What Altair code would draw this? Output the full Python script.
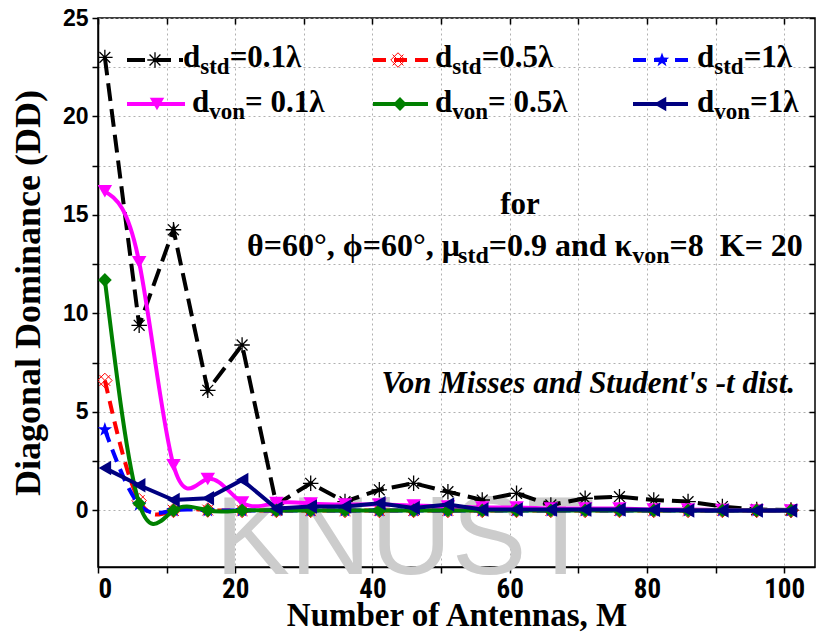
import altair as alt
import pandas as pd

# ---------------- data ----------------
M = [1, 6, 11, 16, 21, 26, 31, 36, 41, 46, 51, 56, 61, 66, 71, 76, 81, 86, 91, 96, 101]
dd_std_01 = [23.0, 9.4, 14.25, 6.1, 8.4, 0.3, 1.38, 0.45, 1.05, 1.38, 0.95, 0.53, 0.87, 0.28, 0.62, 0.7, 0.53, 0.45, 0.2, 0.05, 0.02]
dd_std_05 = [6.6, 0.5, 0.0, 0.02, 0.0, 0.0, 0.0, 0.0, 0.0, 0.0, 0.0, 0.0, 0.0, 0.0, 0.0, 0.0, 0.0, 0.0, 0.0, 0.0, 0.0]
dd_std_1 = [4.1, 0.3, 0.0, 0.01, 0.0, 0.0, 0.0, 0.0, 0.0, 0.0, 0.0, 0.0, 0.0, 0.0, 0.0, 0.0, 0.0, 0.0, 0.0, 0.0, 0.0]
dd_von_01 = [16.2, 12.6, 2.3, 1.6, 0.4, 0.38, 0.35, 0.3, 0.3, 0.25, 0.2, 0.15, 0.15, 0.1, 0.1, 0.1, 0.05, 0.05, 0.02, 0.0, 0.0]
dd_von_05 = [11.7, 0.35, 0.0, 0.0, 0.0, 0.0, 0.0, 0.0, 0.0, 0.0, 0.0, 0.0, 0.0, 0.0, 0.0, 0.0, 0.0, 0.0, 0.0, 0.0, 0.0]
dd_von_1 = [2.15, 1.28, 0.53, 0.62, 1.55, 0.1, 0.2, 0.2, 0.37, 0.12, 0.3, 0.05, 0.05, 0.05, 0.05, 0.05, 0.03, 0.0, 0.0, 0.0, 0.0]

x_ticks = [0, 10, 20, 30, 40, 50, 60, 70, 80, 90, 100]
y_ticks = [0, 2.5, 5, 7.5, 10, 12.5, 15, 17.5, 20, 22.5, 25]

# ---------------- styling ----------------
W, H = 717, 549
xs = alt.Scale(domain=[0, 104.5], nice=False, zero=False)
ys = alt.Scale(domain=[-2.87, 25], nice=False, zero=False)

ASTER = "M-1,0L1,0M0,-1L0,1M-0.7,-0.7L0.7,0.7M-0.7,0.7L0.7,-0.7"
XDIAM = "M0,-1L1,0L0,1L-1,0ZM-0.75,-0.75L0.75,0.75M-0.75,0.75L0.75,-0.75"
STAR = ("M0,-1L0.24,-0.33L0.95,-0.31L0.38,0.12L0.59,0.81L0,0.4L-0.59,0.81"
        "L-0.38,0.12L-0.95,-0.31L-0.24,-0.33Z")

SERIES = [
    # key, values, color, dash, interpolate, shape, filled, size, stroke width of marker
    ("std01", dd_std_01, "#000000", [18, 8], "linear", ASTER, False, 240, 1.3),
    ("std05", dd_std_05, "#ff0000", [13, 8], "natural", XDIAM, False, 210, 1.0),
    ("std1", dd_std_1, "#0000ff", [13, 8], "natural", STAR, True, 230, 0),
    ("von01", dd_von_01, "#ff00ff", None, "natural", "triangle-down", True, 210, 0),
    ("von05", dd_von_05, "#008000", None, "natural", "diamond", True, 190, 0),
    ("von1", dd_von_1, "#000080", None, "linear", "triangle-left", True, 210, 0),
]

SERIF = "Liberation Serif"
SANS = "Liberation Sans"
NARROW = "Roboto Condensed"

# Times-bold advance widths (per em) for placing subscript pieces
ADV = {" ": .25, "=": .57, ".": .25, ",": .25, "a": .5, "n": .556, "d": .556,
       "s": .389, "t": .333, "v": .5, "o": .5, "K": .778, "θ": .5, "ϕ": .6,
       "μ": .556, "κ": .55, "°": .4, "\u00a0": .25, "λ": .55}


def tw(s, size):
    return sum(ADV.get(ch, .5) for ch in s) * size


def text_layer(s, x, y, size, align="left", style="normal", weight="bold",
               font=SERIF, color="black", opacity=1.0):
    return alt.Chart(pd.DataFrame({"t": [s]})).mark_text(
        align=align, baseline="alphabetic", font=font, fontSize=size,
        fontWeight=weight, fontStyle=style, color=color, opacity=opacity
    ).encode(x=alt.value(x), y=alt.value(y), text="t:N")


layers = []

# watermark (behind everything)
layers.append(text_layer("KNUST", 307, 556, 112, align="center", weight="normal",
                         font=SANS, color="#cccccc"))

# axis carrier (bottom / left) with grid
axis_df = pd.DataFrame({"M": M, "DD": dd_std_01})
layers.append(
    alt.Chart(axis_df).mark_point(opacity=0).encode(
        x=alt.X("M:Q", scale=xs, axis=alt.Axis(
            values=x_ticks, labelExpr="datum.value % 20 == 0 ? datum.label : ''",
            labelFont=NARROW,
            labelFontWeight="bold", labelFontSize=27, labelColor="black", labelPadding=3,
            tickColor="black", tickSize=6, tickWidth=1.5,
            domainColor="black", domainWidth=1.5,
            grid=True, gridColor="#b0b0b0", gridDash=[2, 3], gridWidth=1,
            title="Number of Antennas, M", titleFont=SERIF, titleFontSize=33,
            titleFontWeight="bold", titleColor="black",
            titleX=W / 2, titleY=48, titleBaseline="middle", titleAlign="center")),
        y=alt.Y("DD:Q", scale=ys, axis=alt.Axis(
            values=y_ticks, labelExpr="datum.value % 5 == 0 ? datum.label : ''",
            labelFont=SANS, labelFontWeight="bold", labelFontSize=23,
            labelColor="black", labelPadding=4,
            tickColor="black", tickSize=6, tickWidth=1.5,
            domainColor="black", domainWidth=1.5,
            grid=True, gridColor="#b0b0b0", gridDash=[2, 3], gridWidth=1,
            title="Diagonal Dominance (DD)", titleFont=SERIF, titleFontSize=36,
            titleFontWeight="bold", titleColor="black", titleAngle=-90,
            titleX=-70, titleY=H / 2, titleBaseline="middle", titleAlign="center")),
    )
)

# inward ticks on top / right frame
layers.append(
    alt.Chart(axis_df).mark_point(opacity=0).encode(
        x=alt.X("M:Q", scale=xs, axis=alt.Axis(
            orient="top", offset=-6, values=x_ticks, labels=False, domain=False,
            grid=False, tickColor="black", tickSize=6, tickWidth=1.5, title=None)),
        y=alt.Y("DD:Q", scale=ys, axis=alt.Axis(
            orient="right", offset=-6, values=y_ticks, labels=False, domain=False,
            grid=False, tickColor="black", tickSize=6, tickWidth=1.5, title=None)),
    )
)

# data lines and markers
for key, vals, col, dash, interp, shape, filled, size, msw in SERIES:
    df = pd.DataFrame({"M": M, "DD": vals})
    line_kw = dict(color=col, strokeWidth=4, interpolate=interp, clip=True)
    if dash:
        line_kw["strokeDash"] = dash
    enc = dict(x=alt.X("M:Q", scale=xs, axis=None), y=alt.Y("DD:Q", scale=ys, axis=None))
    layers.append(alt.Chart(df).mark_line(**line_kw).encode(**enc))
    pt_kw = dict(shape=shape, size=size, color=col, filled=filled, opacity=1, clip=True)
    if not filled:
        pt_kw["strokeWidth"] = msw
    layers.append(alt.Chart(df).mark_point(**pt_kw).encode(**enc))

# ---------------- manual legend ----------------
one = pd.DataFrame({"a": [0]})
LEG = [
    # key, x1, x2, marker x, y (symbol), text x, text baseline y, subscript, rest
    ("std01", 29, 85, 57, 42, 85, 49, "std", "=0.1λ"),
    ("std05", 275, 330, 300, 42, 337, 49, "std", "=0.5λ"),
    ("std1", 535, 590, 564, 42, 599, 49, "std", "=1λ"),
    ("von01", 29, 87, 59, 86, 94, 94, "von", "= 0.1λ"),
    ("von05", 275, 330, 302, 86, 337, 94, "von", "= 0.5λ"),
    ("von1", 535, 590, 562, 86, 599, 94, "von", "=1λ"),
]
sdict = {s[0]: s for s in SERIES}
BASE, SUB = 31, 23
for key, x1, x2, mx, sy, tx, ty, sub, rest in LEG:
    _, _, col, dash, _, shape, filled, size, msw = sdict[key]
    rk = dict(color=col, strokeWidth=4)
    if dash:
        rk["strokeDash"] = dash
    layers.append(alt.Chart(one).mark_rule(**rk).encode(
        x=alt.value(x1), x2=alt.value(x2), y=alt.value(sy)))
    pk = dict(shape=shape, size=size, color=col, filled=filled, opacity=1)
    if not filled:
        pk["strokeWidth"] = msw
    layers.append(alt.Chart(one).mark_point(**pk).encode(x=alt.value(mx), y=alt.value(sy)))
    layers.append(text_layer("d", tx, ty, BASE))
    xsub = tx + tw("d", BASE)
    layers.append(text_layer(sub, xsub, ty + 7, SUB))
    layers.append(text_layer(rest, xsub + tw(sub, SUB), ty, BASE))

# ---------------- annotations ----------------
layers.append(text_layer("for", 422, 196, 31, align="center"))
A, a = 32, 24
p1 = "θ=60°, ϕ=60°, μ"
p2 = "std"
p3 = "=0.9 and κ"
p4 = "von"
p5 = "=8\u00a0 K= 20"
x0 = 149
y0 = 238
layers.append(text_layer(p1, x0, y0, A))
x0 += tw(p1, A)
layers.append(text_layer(p2, x0, y0 + 7, a))
x0 += tw(p2, a)
layers.append(text_layer(p3, x0, y0, A))
x0 += tw(p3, A)
layers.append(text_layer(p4, x0, y0 + 7, a))
x0 += tw(p4, a)
layers.append(text_layer(p5, x0, y0, A))

layers.append(text_layer("Von Misses and Student's -t dist.", 697, 375, 31,
                         align="right", style="italic"))

chart = alt.layer(*layers).resolve_axis(x="independent", y="independent").properties(
    width=W, height=H,
    padding={"left": 98, "top": 18, "right": 3, "bottom": 74},
    autosize=alt.AutoSizeParams(type="none"),
    background="white",
).configure_view(stroke="black", strokeWidth=1.5)

chart.save("out.html", embed_options={"renderer": "svg", "actions": False})
